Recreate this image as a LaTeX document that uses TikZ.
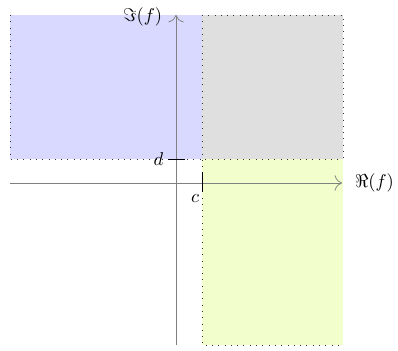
\documentclass[tikz,border=0pt]{standalone}
\usepackage{amsmath}
\usepackage{amssymb}
\usetikzlibrary{arrows.meta,positioning,calc}

\begin{document}
\begin{tikzpicture}[x=0.54pt, y=0.54pt,
  axis/.style={-{To[scale=1.6]}, gray},
  edge/.style={dash pattern=on 0.5pt off 2.9pt, black!80}
]
\useasboundingbox (-176,-167) rectangle (222,183);
% corners of the regions
\coordinate (o) at (0,0);
\coordinate (cd) at (26,24);
\coordinate (tl) at (-166,168);
\coordinate (tc) at (26,168);
\coordinate (tr) at (167,168);
\coordinate (ld) at (-166,24);
\coordinate (rd) at (167,24);
\coordinate (bc) at (26,-162);
\coordinate (br) at (167,-162);
% filled regions
\fill[blue!15] (ld) rectangle (tc);
\fill[gray!25] (cd) rectangle (tr);
\fill[lime!20] (bc) rectangle (rd);
% dotted borders
\draw[edge] (tl) -- (ld) -- (cd);
\draw[edge] (tc) -- (bc) -- (br);
\draw[edge] (tc) -- (tr) -- (rd) -- (cd);
% axes
\coordinate (xmin) at (-166,0);
\coordinate (xmax) at (166,0);
\coordinate (ymin) at (0,-162);
\coordinate (ymax) at (0,168);
\draw[axis] (xmin) -- (xmax);
\draw[axis] (ymin) -- (ymax);
\node[right=3.5pt of xmax] (re) {$\Re(f)$};
\node[left=4pt of ymax, yshift=-1pt] (im) {$\Im(f)$};
% ticks
\coordinate (ctop) at (26,11);
\coordinate (cbot) at (26,-9);
\coordinate (dleft) at (-8,24);
\coordinate (dright) at (9,24);
\draw (ctop) -- (cbot);
\draw (dleft) -- (dright);
\node[left=-1pt of dleft] (dlab) {$d$};
\node[below left=-2pt and -2pt of cbot] (clab) {$c$};
\end{tikzpicture}
\end{document}
